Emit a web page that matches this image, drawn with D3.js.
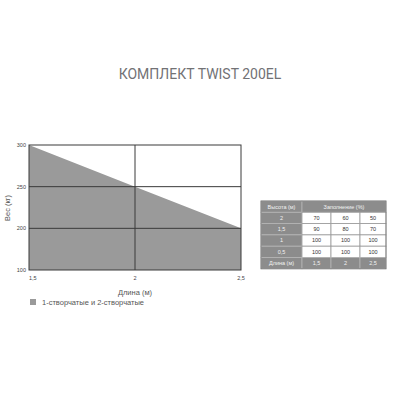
<!DOCTYPE html>
<html>
<head>
<meta charset="utf-8">
<script src="https://cdn.jsdelivr.net/npm/d3@7"></script>
<style>
body{margin:0;background:#fff}
text{font-family:"Liberation Sans",Arial,sans-serif}
text.title{font-family:Roboto,sans-serif}
</style>
</head>
<body>
<div id="chart"></div>
<script>
const lengths=[1.5,2,2.5]
const weights=[300,250,200]
const yTicks=[100,200,250,300]
const xTickLabels=["1,5","2","2,5"]
const heights=["2","1,5","1","0,5"]
const fillRows=[[70,60,50],[90,80,70],[100,100,100],[100,100,100]]
const footLabels=["1,5","2","2,5"]

const width=400
const height=400

const svg=d3.select("#chart")
.append("svg")
.attr("width",width)
.attr("height",height)

svg.append("text")
.attr("class","title")
.attr("x",200)
.attr("y",79)
.attr("text-anchor","middle")
.attr("font-size",14)
.attr("fill","#727275")
.text("КОМПЛЕКТ TWIST 200EL")

// plot
const x=d3.scaleLinear().domain([1.5,2.5]).range([29,241])
const y=d3.scalePoint().domain(yTicks).range([270,145])

const data=lengths.map((l,i)=>({l,w:weights[i]}))

const area=d3.area()
.x(d=>x(d.l))
.y0(y(100))
.y1(d=>y(d.w))

svg.append("path")
.datum(data)
.attr("d",area)
.attr("fill","#9a9a9a")

const grid=svg.append("g").attr("stroke","#3a3a3a").attr("stroke-width",1)

grid.selectAll("line.h")
.data(yTicks.slice(1,3))
.enter()
.append("line")
.attr("x1",x(1.5))
.attr("x2",x(2.5))
.attr("y1",d=>y(d))
.attr("y2",d=>y(d))

grid.append("line")
.attr("x1",x(2)).attr("x2",x(2))
.attr("y1",y(300)).attr("y2",y(100))

svg.append("rect")
.attr("x",x(1.5))
.attr("y",y(300))
.attr("width",x(2.5)-x(1.5))
.attr("height",y(100)-y(300))
.attr("fill","none")
.attr("stroke","#3a3a3a")

svg.append("g")
.selectAll("text")
.data(yTicks)
.enter()
.append("text")
.attr("x",26)
.attr("y",d=>y(d))
.attr("dy","0.35em")
.attr("text-anchor","end")
.attr("font-size",5.5)
.attr("fill","#444")
.text(d=>d)

svg.append("g")
.selectAll("text")
.data(lengths)
.enter()
.append("text")
.attr("x",d=>x(d))
.attr("y",280)
.attr("text-anchor",(d,i)=>i===0?"start":"middle")
.attr("font-size",5.5)
.attr("fill","#444")
.text((d,i)=>xTickLabels[i])

svg.append("text")
.attr("transform","translate(10,208) rotate(-90)")
.attr("text-anchor","middle")
.attr("font-size",7.5)
.attr("fill","#555")
.text("Вес (кг)")

svg.append("text")
.attr("x",x(2))
.attr("y",294.5)
.attr("text-anchor","middle")
.attr("font-size",7.5)
.attr("fill","#555")
.text("Длина (м)")

svg.append("rect")
.attr("x",30).attr("y",299)
.attr("width",6).attr("height",6)
.attr("fill","#9a9a9a")

svg.append("text")
.attr("x",42)
.attr("y",304.5)
.attr("font-size",7.5)
.attr("fill","#555")
.text("1-створчатые и 2-створчатые")

// table
const tx=261, ty=201, rowH=11.3
const colX=[261,302,331,360,386]
const gray="#8c8c8c"
const table=svg.append("g")

const rows=[]
rows.push({cells:[{t:"Высота (м)",g:true,x0:0,x1:1},{t:"Заполнение (%)",g:true,x0:1,x1:4}]})
heights.forEach((h,i)=>{
rows.push({cells:[{t:h,g:true,x0:0,x1:1}].concat(fillRows[i].map((v,j)=>({t:v,g:false,x0:j+1,x1:j+2})))})
})
rows.push({cells:[{t:"Длина (м)",g:true,x0:0,x1:1}].concat(footLabels.map((v,j)=>({t:v,g:true,x0:j+1,x1:j+2})))})

rows.forEach((r,i)=>{
const g=table.append("g")
g.selectAll("rect")
.data(r.cells)
.enter()
.append("rect")
.attr("x",d=>colX[d.x0])
.attr("y",ty+i*rowH)
.attr("width",d=>colX[d.x1]-colX[d.x0])
.attr("height",rowH)
.attr("fill",d=>d.g?gray:"#fff")
.attr("stroke",d=>d.g?"#b5b5b5":"#9a9a9a")
.attr("stroke-width",0.8)
g.selectAll("text")
.data(r.cells)
.enter()
.append("text")
.attr("x",d=>(colX[d.x0]+colX[d.x1])/2)
.attr("y",ty+i*rowH+rowH/2)
.attr("dy","0.35em")
.attr("text-anchor","middle")
.attr("font-size",5.5)
.attr("fill",d=>d.g?"#f2f2f2":"#333")
.text(d=>d.t)
})

table.append("rect")
.attr("x",tx).attr("y",ty)
.attr("width",colX[4]-tx).attr("height",rowH*6)
.attr("fill","none")
.attr("stroke","#777")
.attr("stroke-width",0.8)
</script>
</body>
</html>
